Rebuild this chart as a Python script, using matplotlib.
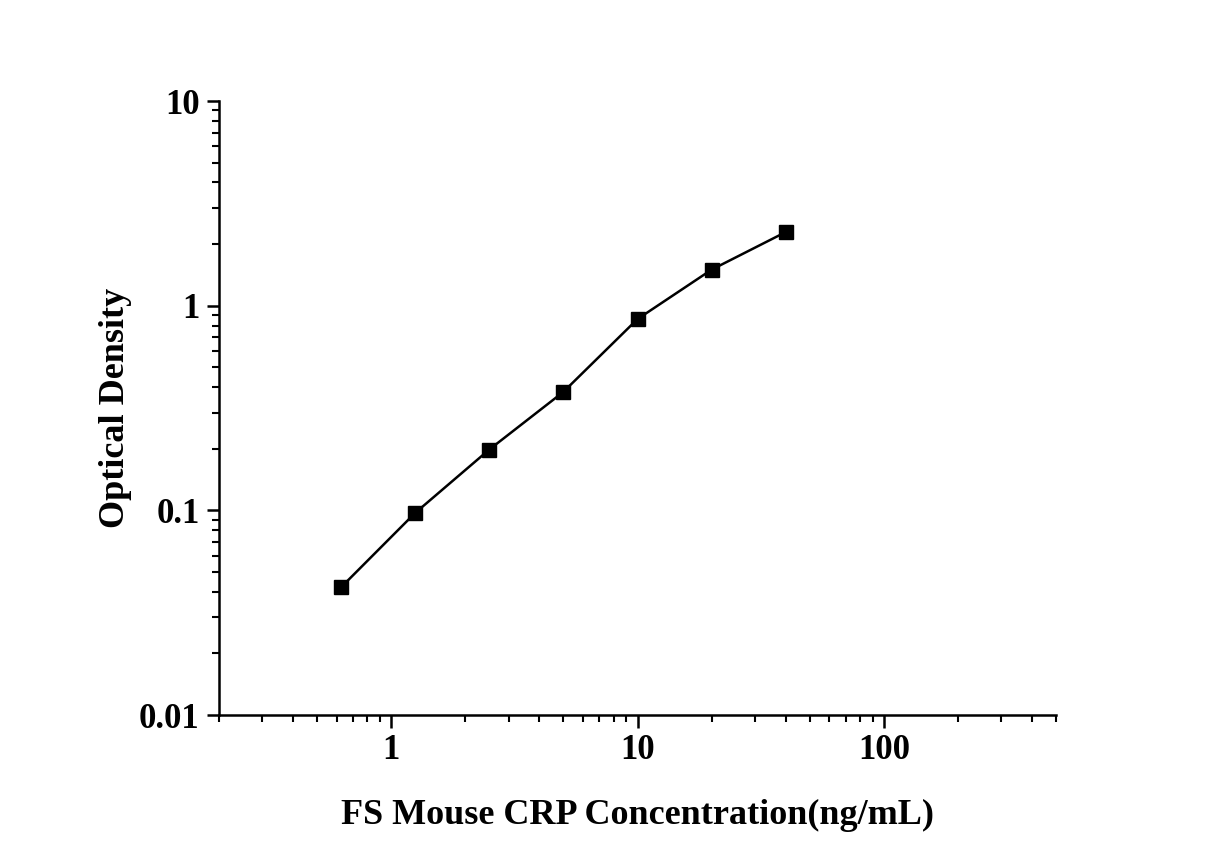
import matplotlib
matplotlib.use("Agg")
import matplotlib.pyplot as plt
from matplotlib.ticker import LogLocator, FixedLocator, NullFormatter

concentration = [0.625, 1.25, 2.5, 5, 10, 20, 40]
optical_density = [0.042, 0.097, 0.198, 0.379, 0.86, 1.50, 2.29]
x_ticks = [1, 10, 100]
x_tick_labels = ["1", "10", "100"]
y_ticks = [0.01, 0.1, 1, 10]
y_tick_labels = ["0.01", "0.1", "1", "10"]

plt.rcParams['font.family'] = ['Liberation Serif', 'DejaVu Serif']
plt.rcParams['font.weight'] = 'bold'

fig = plt.figure(figsize=(12.27, 8.57), dpi=100)
ax = fig.add_axes([219/1227, 1-715/857, (1056-219)/1227, (715-101)/857])

ax.plot(concentration, optical_density, color='black', linewidth=1.8,
        marker='s', markersize=9.5, markerfacecolor='black', markeredgecolor='black')

ax.set_xscale('log')
ax.set_yscale('log')
ax.set_xlim(0.2, 500)
ax.set_ylim(0.01, 10)

ax.xaxis.set_major_locator(FixedLocator(x_ticks))
ax.set_xticklabels(x_tick_labels)
ax.xaxis.set_minor_locator(LogLocator(base=10, subs=range(2, 10), numticks=20))
ax.xaxis.set_minor_formatter(NullFormatter())
ax.yaxis.set_major_locator(FixedLocator(y_ticks))
ax.set_yticklabels(y_tick_labels)
ax.yaxis.set_minor_locator(LogLocator(base=10, subs=range(2, 10), numticks=20))
ax.yaxis.set_minor_formatter(NullFormatter())

for s in ['top', 'right']:
    ax.spines[s].set_visible(False)
for s in ['left', 'bottom']:
    ax.spines[s].set_linewidth(1.8)

ax.tick_params(which='major', direction='out', length=9, width=1.8, labelsize=25, pad=5)
ax.tick_params(which='minor', direction='out', length=5, width=1.5)
for lab in ax.get_xticklabels() + ax.get_yticklabels():
    lab.set_fontweight('bold')

ax.set_xlabel('FS Mouse CRP Concentration(ng/mL)', fontsize=26, fontweight='bold', labelpad=23)
ax.set_ylabel('Optical Density', fontsize=26, fontweight='bold', labelpad=5)

fig.savefig('out.png', dpi=100, facecolor='white')
